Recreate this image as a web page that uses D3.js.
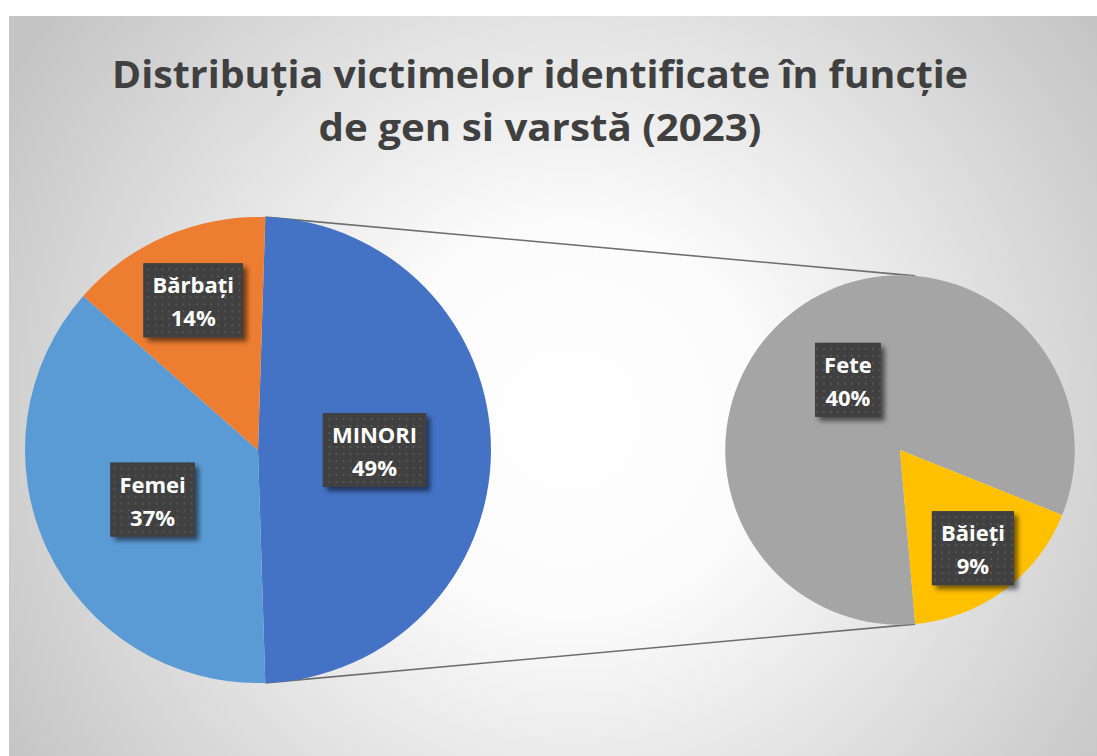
<!DOCTYPE html>
<html>
<head>
<meta charset="utf-8">
<script src="https://cdn.jsdelivr.net/npm/d3@7"></script>
<style>
  body { margin: 0; background: #fff; }
  text { font-family: "Open Sans", sans-serif; font-weight: bold; }
</style>
</head>
<body>
<div id="plot"></div>
<script>
var width = 1097
  , height = 756;

// title lines
var titleLines = ["Distribuția victimelor identificate în funcție", "de gen si varstă (2023)"]

// first pie: MINORI is the slice split into the second pie
var mainLabels = ["MINORI", "Femei", "Bărbați"]
var mainValues = [49, 37, 14]

// second pie: breakdown of MINORI
var subLabels = ["Fete", "Băieți"]
var subValues = [40.4, 8.6]

var mainColors = ["#4472C4", "#5B9BD5", "#ED7D31"]
var subColors = ["#A5A5A5", "#FFC000"]

var deg = Math.PI / 180

var svg = d3.select("#plot")
  .append("svg")
    .attr("width", width)
    .attr("height", height)

var defs = svg.append("defs")

var grad = defs.append("radialGradient")
  .attr("id", "bg")
  .attr("gradientUnits", "userSpaceOnUse")
  .attr("cx", 570).attr("cy", 420).attr("r", 660)
grad.append("stop").attr("offset", 0).attr("stop-color", "#ffffff")
grad.append("stop").attr("offset", 0.3).attr("stop-color", "#fbfbfb")
grad.append("stop").attr("offset", 1).attr("stop-color", "#c4c4c4")

var pat = defs.append("pattern")
  .attr("id", "dots")
  .attr("width", 7).attr("height", 7)
  .attr("patternUnits", "userSpaceOnUse")
pat.append("rect").attr("width", 7).attr("height", 7).attr("fill", "#404040")
pat.append("rect").attr("x", 3).attr("y", 3).attr("width", 2).attr("height", 2).attr("fill", "#555555")

var shadow = defs.append("filter")
  .attr("id", "shadow")
  .attr("x", "-20%").attr("y", "-20%").attr("width", "150%").attr("height", "150%")
shadow.append("feDropShadow")
  .attr("dx", 4).attr("dy", 4).attr("stdDeviation", 2.5)
  .attr("flood-color", "#000").attr("flood-opacity", 0.55)

// chart area background
svg.append("rect")
  .attr("x", 9).attr("y", 16)
  .attr("width", width - 9).attr("height", height - 16)
  .attr("fill", "url(#bg)")

svg.selectAll(".title")
  .data(titleLines)
  .enter()
  .append("text")
  .attr("class", "title")
  .attr("x", 540)
  .attr("y", (d, i) => 88 + i * 53)
  .attr("text-anchor", "middle")
  .attr("font-size", 38)
  .attr("fill", "#404040")
  .attr("textLength", (d, i) => i == 0 ? 856 : 443)
  .attr("lengthAdjust", "spacingAndGlyphs")
  .text(d => d)

// geometry of the two pies
var main = {cx: 258, cy: 450, r: 233}
var sub = {cx: 900, cy: 450, r: main.r * 0.75}

var mainTotal = d3.sum(mainValues)
var splitFrac = mainValues[0] / mainTotal
var mainStart = Math.PI / 2 - splitFrac * Math.PI

var mainPie = d3.pie().sort(null).value(d => d)
  .startAngle(mainStart).endAngle(mainStart + 2 * Math.PI)

// second pie: last slice ends just left of the bottom
var linkAngle = 5 * deg
var subStart = Math.PI - linkAngle
var subPie = d3.pie().sort(null).value(d => d)
  .startAngle(subStart).endAngle(subStart + 2 * Math.PI)

var mainArcs = mainPie(mainValues)
var subArcs = subPie(subValues)

// connector lines from the split slice to the second pie
var pt = (p, a) => [p.cx + p.r * Math.sin(a), p.cy - p.r * Math.cos(a)]
var links = [
  [pt(main, mainStart), pt(sub, linkAngle)],
  [pt(main, mainStart + splitFrac * 2 * Math.PI), pt(sub, Math.PI - linkAngle)]
]

svg.selectAll(".link")
  .data(links)
  .enter()
  .append("path")
  .attr("class", "link")
  .attr("d", d => d3.line()(d))
  .attr("stroke", "#6e6e6e")
  .attr("stroke-width", 1.6)
  .attr("fill", "none")

function drawPie(p, arcs, colors, labels, values, total) {
  var g = svg.append("g")
    .attr("transform", "translate(" + p.cx + "," + p.cy + ")")

  var arc = d3.arc().innerRadius(0).outerRadius(p.r)

  g.selectAll(".slice")
    .data(arcs)
    .enter()
    .append("path")
    .attr("class", "slice")
    .attr("d", arc)
    .attr("fill", (d, i) => colors[i])

  var sum = d3.sum(values)
  // small slices get their label pushed further out
  var lab = g.selectAll(".lab")
    .data(arcs)
    .enter()
    .append("g")
    .attr("class", "lab")
    .attr("transform", d => {
      var k = d.value / sum < 0.2 ? 0.7 : 0.5
      var c = d3.arc().innerRadius(p.r * k).outerRadius(p.r * k).centroid(d)
      return "translate(" + c[0] + "," + c[1] + ")"
    })

  lab.each(function(d, i) {
    var el = d3.select(this)
    var lines = [labels[i], Math.round(d.value / total * 100) + "%"]
    var t = el.selectAll("text")
      .data(lines)
      .enter()
      .append("text")
      .attr("y", (s, j) => j == 0 ? -7 : 26)
      .attr("text-anchor", "middle")
      .attr("font-size", 22)
      .attr("fill", "#ffffff")
      .text(s => s)
    var w = d3.max(t.nodes(), n => n.getComputedTextLength()) + 18
    el.insert("rect", "text")
      .attr("x", -w / 2).attr("y", -37)
      .attr("width", w).attr("height", 74)
      .attr("fill", "#404040")
      .attr("filter", "url(#shadow)")
    el.insert("rect", "text")
      .attr("x", -w / 2).attr("y", -37)
      .attr("width", w).attr("height", 74)
      .attr("fill", "url(#dots)")
  })
}

drawPie(main, mainArcs, mainColors, mainLabels, mainValues, mainTotal)
drawPie(sub, subArcs, subColors, subLabels, subValues, mainTotal)
</script>
</body>
</html>
